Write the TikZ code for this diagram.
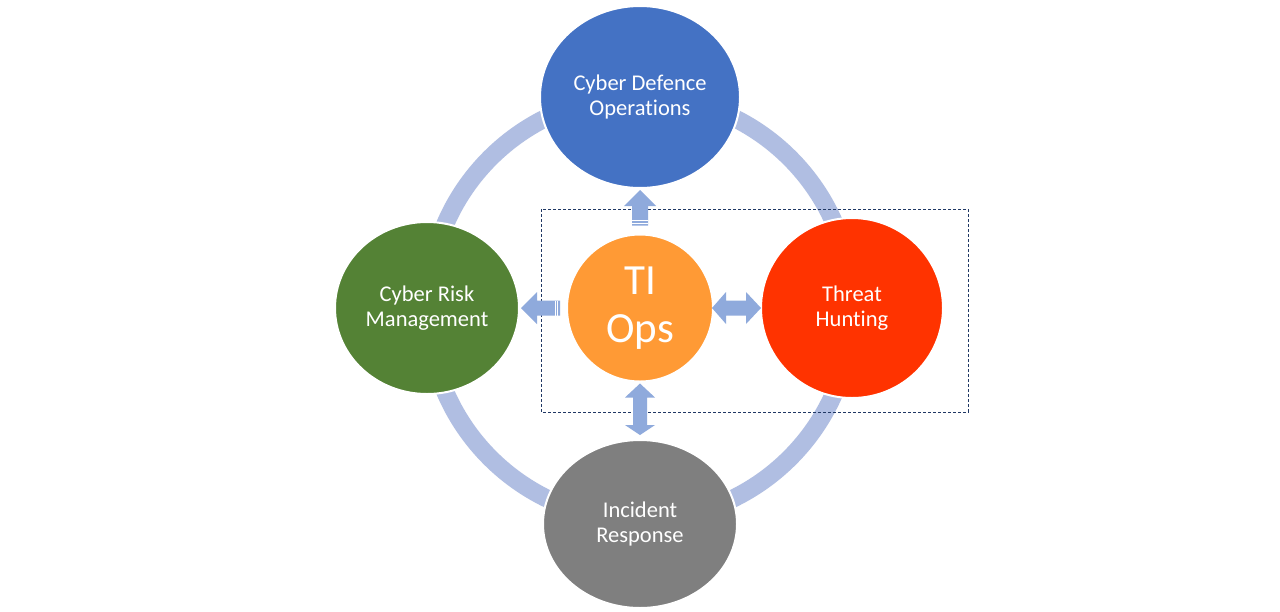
\documentclass[tikz,border=0pt]{standalone}
\usepackage{fontspec}
\setmainfont{Carlito}[Ligatures=NoCommon]
\usetikzlibrary{calc,shapes.geometric}
\definecolor{ringc}{RGB}{176,190,226}
\definecolor{arrowc}{RGB}{143,170,220}
\definecolor{cdo}{RGB}{68,114,196}
\definecolor{crm}{RGB}{84,130,53}
\definecolor{thc}{RGB}{255,51,0}
\definecolor{irc}{RGB}{127,127,127}
\definecolor{tic}{RGB}{255,154,53}
\definecolor{boxc}{RGB}{32,56,100}
\tikzset{
  blob/.style={ellipse, draw=white, line width=2pt, inner sep=0pt, text=white, align=center,
    font=\fontsize{22.5}{25}\selectfont},
  barrow/.style={fill=arrowc, draw=none},
  stripe/.style={draw=white, line width=0.9pt},
}
\begin{document}
\begin{tikzpicture}[x=1pt,y=-1pt]
\useasboundingbox[fill=white] (0,0) rectangle (1280,611);
% ring
\draw[ringc, line width=18pt] (640,308) circle[radius=212];
% dashed box
\draw[boxc, line width=0.8pt, dash pattern=on 3pt off 2pt] (541,209) rectangle (968,412);
% nodes
\node[blob, fill=cdo, minimum width=200pt, minimum height=182pt] (cdo) at (640,97) {Cyber Defence\\Operations};
\node[blob, fill=crm, minimum width=184pt, minimum height=172pt] (crm) at (427,308) {Cyber Risk\\Management};
\node[blob, fill=thc, minimum width=182pt, minimum height=180pt] (th) at (852,308) {Threat\\Hunting};
\node[blob, fill=irc, minimum width=194pt, minimum height=168pt] (ir) at (640,524) {Incident\\Response};
\node[blob, fill=tic, minimum width=146pt, minimum height=147pt, font=\fontsize{43}{48}\selectfont] (ti) at (640,308) {TI\\Ops};
% up arrow TI -> CDO
\fill[barrow] ($(ti.north)+(-8,-8)$) -- ($(cdo.south)+(-8,17)$) -- ($(cdo.south)+(-16,17)$) -- ($(cdo.south)+(0,1)$)
  -- ($(cdo.south)+(16,17)$) -- ($(cdo.south)+(8,17)$) -- ($(ti.north)+(8,-8)$) -- cycle;
\draw[stripe] ($(ti.north)+(-8,-13)$) -- ($(ti.north)+(8,-13)$);
\draw[stripe] ($(ti.north)+(-8,-10.5)$) -- ($(ti.north)+(8,-10.5)$);
% left arrow TI -> CRM
\fill[barrow] ($(ti.west)+(-6,-7.5)$) -- ($(crm.east)+(17,-7.5)$) -- ($(crm.east)+(17,-16)$) -- ($(crm.east)+(1,0)$)
  -- ($(crm.east)+(17,16)$) -- ($(crm.east)+(17,7.5)$) -- ($(ti.west)+(-6,7.5)$) -- cycle;
\draw[stripe] ($(ti.west)+(-11,-7.5)$) -- ($(ti.west)+(-11,7.5)$);
\draw[stripe] ($(ti.west)+(-8.5,-7.5)$) -- ($(ti.west)+(-8.5,7.5)$);
% right double arrow TI <-> TH
\fill[barrow] ($(ti.east)+(-2,0)$) -- ($(ti.east)+(12,-16)$) -- ($(ti.east)+(12,-7.5)$) -- ($(th.west)+(-14,-7.5)$)
  -- ($(th.west)+(-14,-16)$) -- ($(th.west)+(1,0)$) -- ($(th.west)+(-14,16)$) -- ($(th.west)+(-14,7.5)$)
  -- ($(ti.east)+(12,7.5)$) -- ($(ti.east)+(12,16)$) -- cycle;
% down double arrow TI <-> IR
\fill[barrow] ($(ti.south)+(0,1)$) -- ($(ti.south)+(-15,15)$) -- ($(ti.south)+(-7,15)$) -- ($(ir.north)+(-7,-14)$)
  -- ($(ir.north)+(-15,-14)$) -- ($(ir.north)+(0,-4)$) -- ($(ir.north)+(15,-14)$) -- ($(ir.north)+(7,-14)$)
  -- ($(ti.south)+(7,15)$) -- ($(ti.south)+(15,15)$) -- cycle;
\end{tikzpicture}
\end{document}
